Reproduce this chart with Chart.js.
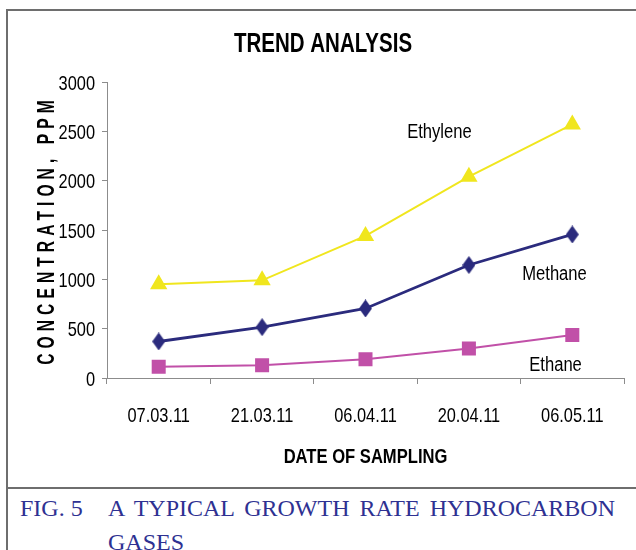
<!DOCTYPE html>
<html lang="en">
<head>
<meta charset="UTF-8">
<title>Trend Analysis</title>
<script src="https://cdn.jsdelivr.net/npm/chart.js"></script>
<style>
  html, body { margin: 0; padding: 0; background: #fff; }
  body { width: 636px; height: 550px; position: relative; overflow: hidden; }
  #frame {
    position: absolute; left: 6px; top: 9px; width: 700px; height: 600px;
    border-left: 2px solid #6e6e6e; border-top: 2px solid #6e6e6e;
  }
  #sep {
    position: absolute; left: 6px; top: 487px; width: 700px;
    border-top: 2px solid #6e6e6e;
  }
  #wrap { position: absolute; left: 0; top: 0; width: 636px; height: 488px; }
  .cap {
    position: absolute; font-family: 'Liberation Serif', 'Times New Roman', serif;
    font-size: 24px; color: #2e3192; line-height: 34px;
  }
  #fig { left: 20px; top: 491px; }
  #capText { left: 108px; top: 491px; width: 507px; text-align: justify; text-align-last: left; }
</style>
</head>
<body>
<div id="frame"></div>
<div id="sep"></div>
<div id="wrap"><canvas id="trendChart" width="636" height="488"></canvas></div>
<div class="cap" id="fig">FIG. 5</div>
<div class="cap" id="capText">A TYPICAL GROWTH RATE HYDROCARBON GASES</div>

<script>
// Sampling dates and gas concentrations (ppm)
const dates = ['07.03.11', '21.03.11', '06.04.11', '20.04.11', '06.05.11'];
const ethylene = [950, 990, 1440, 2040, 2570];
const methane = [370, 515, 705, 1145, 1455];
const ethane = [115, 130, 190, 300, 435];
const yTicks = [0, 500, 1000, 1500, 2000, 2500, 3000];

// no Arial Narrow here, so Liberation Sans squeezed sideways instead
const SANS = "'Liberation Sans', Arial, sans-serif";
const AXIS_GREY = '#8c8c8c';

function narrowText(ctx, text, x, y, font, sx, align) {
  ctx.save();
  ctx.translate(x, y);
  ctx.scale(sx, 1);
  ctx.font = font;
  ctx.textAlign = align;
  ctx.textBaseline = 'alphabetic';
  ctx.fillText(text, 0, 0);
  ctx.restore();
}

// tall diamond marker for methane
function diamond(color) {
  const c = document.createElement('canvas');
  c.width = 13; c.height = 18;
  const g = c.getContext('2d');
  g.fillStyle = color;
  g.beginPath();
  g.moveTo(6.5, 0); g.lineTo(13, 9); g.lineTo(6.5, 18); g.lineTo(0, 9);
  g.closePath();
  g.fill();
  return c;
}

// all the text: title, tick labels, axis titles, series names
const textPlugin = {
  id: 'narrowText',
  afterDraw(chart) {
    const { ctx, chartArea } = chart;
    const x = chart.scales.x, y = chart.scales.y;
    ctx.save();
    ctx.fillStyle = '#000';

    narrowText(ctx, 'TREND ANALYSIS', chart.width / 2 + 5, 52, 'bold 27px ' + SANS, 0.76, 'center');

    y.ticks.forEach(t => {
      narrowText(ctx, String(t.value), chartArea.left - 12, y.getPixelForValue(t.value) + 7.5, '21px ' + SANS, 0.78, 'right');
    });
    dates.forEach((d, i) => {
      narrowText(ctx, d, x.getPixelForValue(i), 422, '21px ' + SANS, 0.78, 'center');
    });
    narrowText(ctx, 'DATE OF SAMPLING', (chartArea.left + chartArea.right) / 2, 463, 'bold 21px ' + SANS, 0.79, 'center');

    narrowText(ctx, 'Ethylene', x.getPixelForValue(2.715), y.getPixelForValue(2437), '20px ' + SANS, 0.83, 'center');
    narrowText(ctx, 'Methane', x.getPixelForValue(3.828), y.getPixelForValue(993), '20px ' + SANS, 0.83, 'center');
    narrowText(ctx, 'Ethane', x.getPixelForValue(3.838), y.getPixelForValue(71), '20px ' + SANS, 0.83, 'center');

    // letter-spaced vertical title
    ctx.translate(54, (chartArea.top + chartArea.bottom) / 2);
    ctx.rotate(-Math.PI / 2);
    ctx.scale(0.65, 1);
    ctx.font = 'bold 24px ' + SANS;
    ctx.letterSpacing = '7.8px';
    ctx.textAlign = 'center';
    ctx.textBaseline = 'alphabetic';
    ctx.fillText('CONCENTRATION, PPM', 0, 0);
    ctx.restore();
  }
};

const ctx = document.getElementById('trendChart').getContext('2d');
new Chart(ctx, {
  type: 'line',
  data: {
    labels: dates,
    datasets: [
      {
        label: 'Ethylene',
        data: ethylene,
        borderColor: '#f0e61e',
        backgroundColor: '#f0e61e',
        borderWidth: 2,
        pointStyle: 'triangle',
        pointRadius: 8,
        pointHoverRadius: 8,
        tension: 0
      },
      {
        label: 'Methane',
        data: methane,
        borderColor: '#2b2b7d',
        backgroundColor: '#2b2b7d',
        borderWidth: 2.8,
        pointStyle: diamond('#2b2b7d'),
        tension: 0
      },
      {
        label: 'Ethane',
        data: ethane,
        borderColor: '#c150a8',
        backgroundColor: '#c150a8',
        borderWidth: 2,
        pointStyle: 'rect',
        pointRadius: 8.5,
        pointHoverRadius: 8.5,
        tension: 0
      }
    ]
  },
  options: {
    responsive: false,
    animation: false,
    layout: { padding: { left: 0, right: 12, top: 82, bottom: 0 } },
    plugins: {
      legend: { display: false },
      tooltip: { enabled: false },
      title: { display: false }
    },
    scales: {
      x: {
        offset: true,
        grid: { display: true, drawOnChartArea: false, drawTicks: true, tickLength: 6, color: AXIS_GREY, offset: true },
        border: { color: AXIS_GREY, width: 1 },
        ticks: { display: false },
        afterFit(scale) { scale.height = 110; }
      },
      y: {
        min: 0,
        max: 3000,
        afterBuildTicks(scale) { scale.ticks = yTicks.map(v => ({ value: v })); },
        grid: { display: true, drawOnChartArea: false, drawTicks: true, tickLength: 5, color: AXIS_GREY },
        border: { color: AXIS_GREY, width: 1 },
        ticks: { display: false },
        afterFit(scale) { scale.width = 107; }
      }
    }
  },
  plugins: [textPlugin]
});
</script>
</body>
</html>
